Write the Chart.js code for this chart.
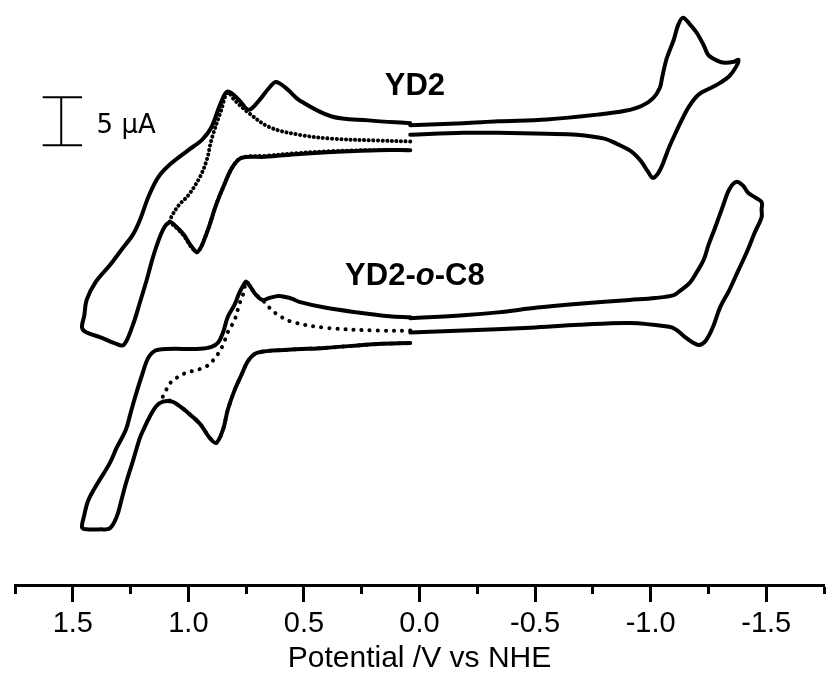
<!DOCTYPE html>
<html>
<head>
<meta charset="utf-8">
<script src="https://cdn.jsdelivr.net/npm/chart.js@4.4.1/dist/chart.umd.min.js"></script>
<style>
  html, body { margin: 0; padding: 0; background: #fff; overflow: hidden; }
  #wrap { width: 829px; height: 691px; }
</style>
</head>
<body>
<div id="wrap"><canvas id="cvChart" width="829" height="691"></canvas></div>
<script>
// Potential (V vs NHE) and current (uA, curves offset)

// YD2, positive scan 0 -> +1.46 V -> 0 (solid)
const yd2PosE = [0.04, 0.18, 0.38, 0.52, 0.67, 0.77, 0.81, 0.85, 0.88, 0.92, 0.96, 0.99, 1.02, 1.06, 1.08, 1.11, 1.15, 1.18, 1.21, 1.24, 1.28, 1.32, 1.38, 1.44, 1.46, 1.45, 1.44, 1.40, 1.34, 1.29, 1.24, 1.21, 1.17, 1.13, 1.08, 1.00, 0.94, 0.90, 0.86, 0.83, 0.78, 0.74, 0.70, 0.65, 0.62, 0.57, 0.52, 0.38, 0.22, 0.04];
const yd2PosI = [45.3, 45.3, 45.1, 44.9, 44.6, 44.5, 43.5, 41.4, 39.6, 36.7, 34.7, 35.4, 36.5, 37.5, 37.8, 37.0, 34.4, 31.8, 29.4, 27.1, 25.0, 25.2, 25.8, 26.3, 26.8, 28.1, 29.7, 31.6, 33.3, 34.9, 36.5, 38.0, 40.6, 42.5, 43.8, 45.3, 46.4, 47.7, 50.2, 51.4, 50.5, 49.5, 50.3, 51.8, 52.4, 51.6, 50.5, 48.8, 48.4, 48.1];

// YD2, scan to first oxidation only (dotted)
const yd2DotE = [0.04, 0.18, 0.38, 0.52, 0.65, 0.74, 0.80, 0.83, 0.86, 0.90, 0.92, 0.95, 1.00, 1.04, 1.07, 1.08, 1.06, 1.02, 0.99, 0.96, 0.92, 0.88, 0.85, 0.81, 0.77, 0.67, 0.52, 0.38, 0.18, 0.04];
const yd2DotI = [46.2, 46.3, 46.5, 46.9, 47.7, 49.2, 50.5, 51.3, 49.3, 46.4, 44.3, 42.5, 40.6, 39.6, 38.5, 37.8, 37.4, 36.4, 35.3, 34.7, 36.7, 39.6, 41.4, 43.5, 44.5, 44.7, 45.0, 45.2, 45.3, 45.3];

// YD2, negative scan 0 -> -1.38 V -> 0 (solid)
const yd2NegE = [0.04, -0.19, -0.34, -0.55, -0.77, -0.89, -0.96, -1.01, -1.04, -1.05, -1.07, -1.10, -1.12, -1.14, -1.17, -1.20, -1.23, -1.25, -1.29, -1.32, -1.36, -1.38, -1.37, -1.34, -1.30, -1.27, -1.22, -1.195, -1.165, -1.14, -1.11, -1.08, -1.04, -1.01, -0.99, -0.96, -0.92, -0.85, -0.80, -0.68, -0.55, -0.34, -0.19, 0.04];
const yd2NegI = [47.9, 48.1, 48.3, 48.5, 49.0, 49.4, 49.9, 50.7, 51.8, 52.9, 54.9, 56.8, 58.4, 59.1, 58.4, 57.5, 56.2, 55.2, 54.6, 54.4, 54.5, 54.7, 54.0, 53.0, 52.3, 51.9, 51.3, 50.8, 49.8, 48.7, 47.2, 45.6, 43.2, 42.4, 43.0, 44.1, 45.1, 46.0, 46.5, 46.9, 47.0, 47.1, 47.1, 46.9];

// YD2-o-C8, positive scan (solid)
const c8PosE = [0.04, 0.18, 0.41, 0.57, 0.70, 0.74, 0.77, 0.80, 0.83, 0.85, 0.88, 0.91, 0.95, 1.00, 1.03, 1.07, 1.11, 1.14, 1.17, 1.19, 1.21, 1.24, 1.27, 1.29, 1.31, 1.34, 1.38, 1.44, 1.46, 1.45, 1.435, 1.405, 1.34, 1.31, 1.27, 1.25, 1.23, 1.20, 1.17, 1.13, 0.95, 0.90, 0.87, 0.85, 0.83, 0.80, 0.78, 0.76, 0.75, 0.73, 0.71, 0.68, 0.65, 0.61, 0.58, 0.55, 0.52, 0.41, 0.27, 0.13, 0.04];
const c8PosI = [25.2, 25.1, 24.7, 24.5, 24.2, 23.4, 21.9, 20.3, 18.2, 16.2, 14.8, 15.4, 16.8, 17.9, 18.5, 19.1, 19.1, 18.6, 17.4, 16.4, 15.3, 12.9, 10.6, 8.8, 7.1, 5.9, 5.8, 5.8, 6.0, 7.3, 8.7, 10.1, 12.7, 14.3, 16.2, 17.9, 19.6, 21.9, 23.8, 24.5, 24.6, 24.8, 25.3, 26.3, 27.9, 29.2, 30.4, 31.3, 31.6, 31.0, 30.3, 29.7, 29.9, 30.1, 30.0, 29.8, 29.5, 28.9, 28.4, 28.0, 27.9];

// YD2-o-C8, scan to first oxidation only (dotted)
const c8DotE = [0.04, 0.18, 0.41, 0.55, 0.61, 0.65, 0.68, 0.71, 0.73, 0.75, 0.76, 0.78, 0.80, 0.83, 0.85, 0.88, 0.92, 0.98, 1.01, 1.05, 1.08, 1.10, 1.11, 1.07, 1.03, 0.95, 0.91, 0.88, 0.85, 0.83, 0.80, 0.77, 0.74, 0.70, 0.57, 0.41, 0.18, 0.04];
const c8DotI = [26.5, 26.5, 26.8, 27.4, 28.1, 28.9, 29.7, 30.3, 31.0, 31.6, 30.5, 29.2, 27.6, 26.3, 25.0, 23.8, 22.8, 22.3, 22.1, 21.6, 21.0, 20.1, 19.6, 19.1, 18.5, 16.8, 15.4, 14.8, 16.2, 18.2, 20.3, 21.9, 23.4, 24.2, 24.5, 24.7, 25.1, 25.2];

// YD2-o-C8, negative scan (solid)
const c8NegE = [0.04, -0.19, -0.34, -0.51, -0.69, -0.91, -1.02, -1.10, -1.13, -1.17, -1.20, -1.23, -1.25, -1.28, -1.31, -1.34, -1.37, -1.40, -1.42, -1.45, -1.48, -1.48, -1.48, -1.45, -1.42, -1.38, -1.34, -1.30, -1.27, -1.24, -1.21, -1.18, -1.15, -1.11, -1.08, -0.91, -0.69, -0.48, -0.19, 0.04];
const c8NegI = [27.8, 28.1, 28.4, 28.9, 29.3, 29.7, 29.9, 30.2, 30.7, 31.5, 32.6, 33.9, 35.4, 37.3, 39.3, 41.2, 42.0, 41.6, 40.9, 40.4, 39.9, 39.1, 38.3, 36.7, 34.9, 32.8, 30.7, 28.9, 26.9, 25.5, 25.0, 25.3, 25.8, 26.6, 26.9, 27.3, 27.1, 26.8, 26.5, 26.3];

// 5 uA scale bar
const scaleBarE = [1.63, 1.46, 1.55, 1.55, 1.63, 1.46];
const scaleBarI = [50.8, 50.8, 50.8, 45.8, 45.8, 45.8];

const majorTicks = [1.5, 1.0, 0.5, 0.0, -0.5, -1.0, -1.5];

const FONT = '"Liberation Sans", Arial, Helvetica, sans-serif';
Chart.defaults.font.family = FONT;
Chart.defaults.color = '#000';

const toPts = (es, is) => es.map((e, i) => ({ x: e, y: is[i] }));
const isMajor = (v) => majorTicks.some((m) => Math.abs(m - v) < 1e-6);

function solid(e, i) {
    return { data: toPts(e, i), showLine: true, borderColor: '#000', borderWidth: 4, pointRadius: 0, tension: 0.35, borderJoinStyle: 'round', borderCapStyle: 'round' };
}
function dotted(e, i, gap) {
    return { data: toPts(e, i), showLine: true, borderColor: '#000', borderWidth: 4, pointRadius: 0, tension: 0.35, borderDash: [0.1, gap], borderCapStyle: 'round' };
}

// labels drawn on top of the curves
const labelsPlugin = {
    id: 'labels',
    afterDatasetsDraw(chart) {
        const { ctx, scales: { x, y } } = chart;
        ctx.save();
        ctx.fillStyle = '#000';
        ctx.textBaseline = 'alphabetic';

        ctx.font = 'bold 31px ' + FONT;
        ctx.textAlign = 'center';
        ctx.fillText('YD2', x.getPixelForValue(0.02), y.getPixelForValue(51.0));

        // YD2-o-C8 with italic "o"
        const parts = [['YD2-', 'bold 31px '], ['o', 'italic bold 31px '], ['-C8', 'bold 31px ']];
        ctx.textAlign = 'left';
        let w = 0;
        parts.forEach(([t, f]) => { ctx.font = f + FONT; w += ctx.measureText(t).width; });
        let px = x.getPixelForValue(0.02) - w / 2;
        const py = y.getPixelForValue(31.25);
        parts.forEach(([t, f]) => { ctx.font = f + FONT; ctx.fillText(t, px, py); px += ctx.measureText(t).width; });

        ctx.font = '26px "DejaVu Sans", sans-serif';
        ctx.fillText('5 \u03BCA', x.getPixelForValue(1.397), y.getPixelForValue(47.08));
        ctx.restore();
    }
};

new Chart(document.getElementById('cvChart').getContext('2d'), {
    type: 'scatter',
    data: {
        datasets: [
            solid(yd2PosE, yd2PosI),
            dotted(yd2DotE, yd2DotI, 4.5),
            solid(yd2NegE, yd2NegI),
            solid(c8PosE, c8PosI),
            dotted(c8DotE, c8DotI, 8),
            solid(c8NegE, c8NegI),
            { data: toPts(scaleBarE, scaleBarI), showLine: true, borderColor: '#000', borderWidth: 2, pointRadius: 0, tension: 0 },
        ],
    },
    options: {
        responsive: false,
        animation: false,
        layout: { padding: { left: 15, right: 0, top: 0, bottom: 0 } },
        plugins: { legend: { display: false }, tooltip: { enabled: false } },
        scales: {
            x: {
                type: 'linear',
                reverse: true,
                min: -1.75,
                max: 1.75,
                afterFit: (s) => { s.height = 106; },
                border: { display: true, color: '#000', width: 3 },
                grid: {
                    display: true,
                    drawOnChartArea: false,
                    drawTicks: true,
                    tickLength: 17,
                    tickWidth: 3,
                    tickColor: '#000',
                    tickBorderDash: (ctx) => (ctx.tick && isMajor(ctx.tick.value) ? [] : [7, 100]),
                },
                ticks: {
                    stepSize: 0.25,
                    autoSkip: false,
                    maxRotation: 0,
                    padding: 5,
                    color: '#000',
                    font: { size: 29 },
                    callback: (v) => (isMajor(v) ? (Math.abs(v) < 1e-9 ? '0.0' : v.toFixed(1)) : ''),
                },
                title: {
                    display: true,
                    text: 'Potential /V vs NHE',
                    color: '#000',
                    font: { size: 30 },
                    padding: { top: 0, bottom: 14 },
                },
            },
            y: {
                type: 'linear',
                display: false,
                min: 0,
                max: 60.94,
            },
        },
    },
    plugins: [labelsPlugin],
});
</script>
</body>
</html>
